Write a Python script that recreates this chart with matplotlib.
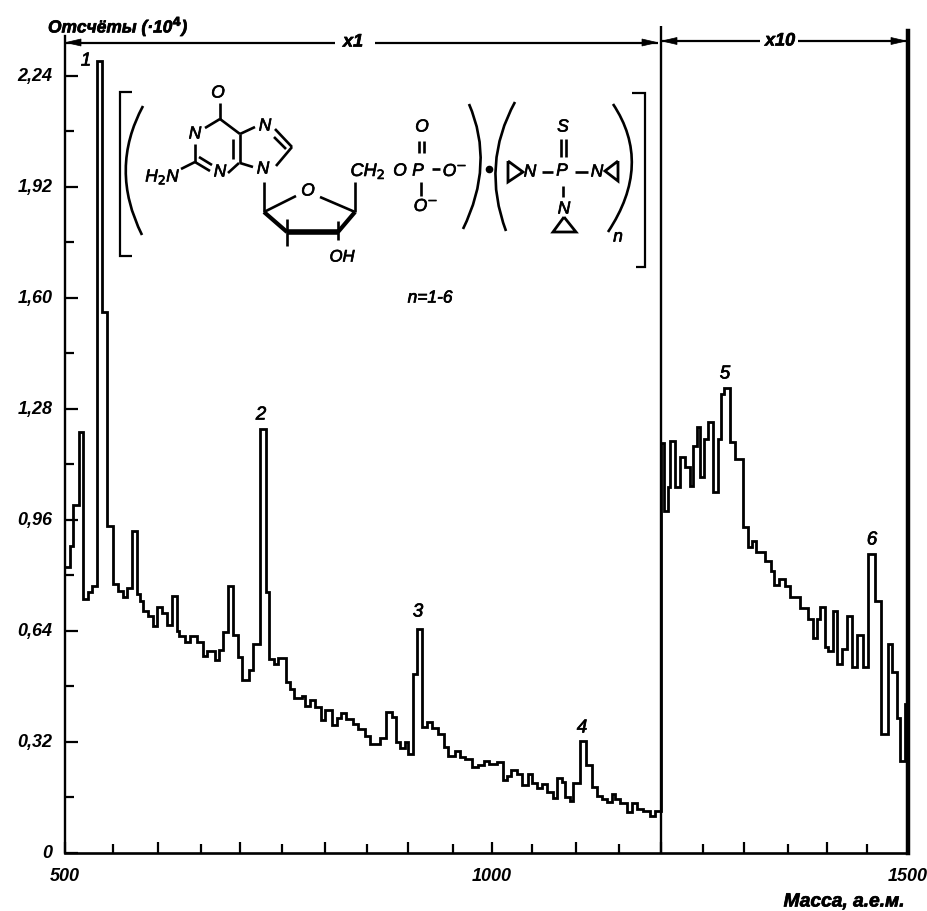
import numpy as np
import matplotlib
matplotlib.use("Agg")
import matplotlib.pyplot as plt
import matplotlib.patheffects as pe
from matplotlib.path import Path
from matplotlib.patches import PathPatch, Polygon

plt.rcParams['font.family'] = ['Liberation Sans', 'DejaVu Sans']

# Left edge of each histogram step (mass, a.m.u.) and its height (counts x 10^4)
mass_edges = [
    501, 505, 508, 515, 519, 524, 528, 533, 539, 544, 550, 556, 561, 566, 571, 577, 580, 583, 589, 594,
    599, 605, 610, 616, 622, 625, 631, 637, 645, 653, 658, 668, 673, 678, 685, 691, 697, 702, 711, 716,
    724, 731, 735, 740, 745, 755, 759, 764, 773, 777, 783, 788, 795, 800, 808, 814, 819, 825, 833, 839,
    848, 854, 866, 873, 881, 885, 890, 896, 900, 906, 910, 916, 921, 927, 933, 940, 945, 953, 959, 965,
    974, 982, 990, 996, 1006, 1014, 1019, 1024, 1031, 1038, 1045, 1050, 1056, 1061, 1067, 1074, 1078,
    1084, 1087, 1093, 1097, 1105, 1112, 1119, 1124, 1130, 1136, 1142, 1145, 1151, 1160, 1166, 1172,
    1179, 1187, 1193,
    1200, 1204, 1208, 1211, 1217, 1223, 1229, 1235, 1238, 1243, 1246, 1251, 1256, 1262, 1268, 1272,
    1276, 1283, 1289, 1299, 1305, 1309, 1314, 1324, 1331, 1334, 1340, 1347, 1353, 1365, 1376, 1382,
    1387, 1391, 1397, 1401, 1408, 1413, 1419, 1425, 1431, 1438, 1445, 1451, 1460, 1467, 1476, 1481,
    1487, 1490, 1496, 1500]
counts = [
    0.824, 0.885, 1.003, 1.213, 0.732, 0.752, 0.769, 2.282, 1.559, 0.942, 0.775, 0.755, 0.738, 0.764, 0.928,
    0.746, 0.726, 0.697, 0.683, 0.654, 0.709, 0.692, 0.657, 0.741, 0.640, 0.625, 0.608, 0.625, 0.608, 0.568,
    0.582, 0.556, 0.585, 0.637, 0.769, 0.628, 0.565, 0.499, 0.527, 0.602, 1.222, 0.752, 0.559, 0.545, 0.562,
    0.493, 0.473, 0.447, 0.452, 0.424, 0.441, 0.421, 0.383, 0.412, 0.369, 0.389, 0.403, 0.386, 0.372, 0.357,
    0.337, 0.314, 0.331, 0.406, 0.392, 0.320, 0.303, 0.320, 0.285, 0.516, 0.646, 0.363, 0.378, 0.360, 0.343,
    0.305, 0.280, 0.294, 0.277, 0.271, 0.248, 0.254, 0.265, 0.256, 0.262, 0.210, 0.222, 0.239, 0.228, 0.196,
    0.228, 0.202, 0.187, 0.199, 0.176, 0.158, 0.216, 0.205, 0.161, 0.150, 0.202, 0.323, 0.254, 0.190, 0.164,
    0.156, 0.147, 0.170, 0.156, 0.144, 0.118, 0.144, 0.127, 0.121, 0.107, 0.121,
    1.182, 0.986, 1.055, 1.187, 1.055, 1.141, 1.112, 1.058, 1.173, 1.228, 1.084, 1.193, 1.242, 1.040, 1.193,
    1.323, 1.340, 1.184, 1.135, 0.939, 0.882, 0.899, 0.867, 0.841, 0.813, 0.772, 0.790, 0.769, 0.738, 0.706,
    0.674, 0.620, 0.674, 0.709, 0.594, 0.582, 0.697, 0.545, 0.588, 0.683, 0.536, 0.628, 0.536, 0.862, 0.726,
    0.343, 0.602, 0.522, 0.389, 0.265, 0.429, 0.429]

x_ticks = list(range(500, 1501, 50))
# The hand-drawn scale: where each 50 a.m.u. tick really sits along the axis (fraction of axis length)
x_tick_fraction = [0, 48, 93, 136, 175, 217, 260, 302, 343, 388, 427, 467, 511, 554, 596, 638, 679, 723, 762, 802, 843]
x_labels = {500: '500', 1000: '1000', 1500: '1500'}
y_ticks = [0.16 * i for i in range(15)]
y_labels = ['0', '', '0,32', '', '0,64', '', '0,96', '', '1,28', '', '1,60', '', '1,92', '', '2,24']

W, H = 928, 912
L, R, B, T = 65, 908, 854, 27
Y_SCALE = 347.0
font_it = dict(style='italic', fontsize=13, color='black')

fig = plt.figure(figsize=(W / 100, H / 100), dpi=100)
ax = fig.add_axes([L / W, 1 - B / H, (R - L) / W, (B - T) / H])

frac = np.array(x_tick_fraction, float)
tv = np.array(x_ticks, float)
def fwd(m):
    return np.interp(m, tv, frac)
def inv(f):
    return np.interp(f, frac, tv)
ax.set_xscale('function', functions=(fwd, inv))
ax.set_xlim(500, 1500)
ax.set_ylim(0, (B - T) / Y_SCALE)

ax.step(mass_edges, counts, where='post', color='black', lw=2.0, solid_joinstyle='miter', clip_on=False)

# ticks
ax.set_xticks([m for m in x_ticks if m % 100 == 0])
ax.set_xticks([m for m in x_ticks if m % 100 != 0], minor=True)
ax.set_xticklabels([x_labels.get(m, '') for m in x_ticks if m % 100 == 0], **font_it, fontweight='bold')
ax.set_yticks(y_ticks[::2])
ax.set_yticks(y_ticks[1::2], minor=True)
ax.set_yticklabels(y_labels[::2], **font_it, fontweight='bold')
ax.tick_params(axis='x', which='major', direction='in', length=8, width=1.6, pad=10)
ax.tick_params(axis='x', which='minor', direction='in', length=6.5, width=1.6)
ax.tick_params(axis='y', which='major', direction='in', length=9, width=1.6, pad=9)
ax.tick_params(axis='y', which='minor', direction='in', length=6.5, width=1.6)
for lab in ax.get_yticklabels():
    lab.set_verticalalignment('center')

ax.spines['top'].set_visible(False)
ax.spines['left'].set_linewidth(1.7)
ax.spines['left'].set_bounds(0, (B - 37) / Y_SCALE)
ax.spines['bottom'].set_linewidth(1.9)
ax.spines['right'].set_linewidth(3.2)
ax.spines['right'].set_bounds(0, (B - 32) / Y_SCALE)
ax.axvline(1200, color='black', lw=1.7)

# annotation overlay in image pixels
ov = fig.add_axes([0, 0, 1, 1], facecolor='none')
ov.set_xlim(0, W)
ov.set_ylim(H, 0)
ov.axis('off')
heavy = [pe.withStroke(linewidth=0.5, foreground='black')]

def txt(x, y, s, size=13, **kw):
    ov.text(x, y, s, fontsize=size, style='italic', ha=kw.pop('ha', 'center'), va='center', color='black',
            path_effects=heavy, **kw)

def ln(pts, lw=1.9):
    xs, ys = zip(*pts)
    ov.plot(xs, ys, color='black', lw=lw, solid_capstyle='butt', solid_joinstyle='miter')

def curve(a, c, b, lw=1.9):
    ov.add_patch(PathPatch(Path([a, c, b], [Path.MOVETO, Path.CURVE3, Path.CURVE3]), fc='none', ec='black', lw=lw))

def head(x, y, d):
    ov.add_patch(Polygon([(x, y), (x - d * 15, y - 3.5), (x - d * 15, y + 3.5)], closed=True, fc='black', ec='black', lw=0.5))

txt(48, 27, 'Отсчёты (·10$^{\\mathbf{4}}$)', size=12.5, ha='left', fontweight='bold')
txt(844, 903, 'Масса, а.е.м.', size=13.8, fontweight='bold')
for x, y, s in [(86, 62, '1'), (261, 416, '2'), (418, 613, '3'), (582, 729, '4'), (725, 375, '5'), (872, 541, '6')]:
    txt(x, y, s, size=13.5)

# range arrows
ln([(66, 43.5), (335, 43.5)], 1.6)
ln([(375, 43.5), (658, 43.5)], 1.6)
ln([(661, 42), (760, 42)], 1.6)
ln([(798, 42), (906, 42)], 1.6)
head(66, 43.5, -1); head(657, 43.5, 1); head(662, 42, -1); head(906, 42, 1)
txt(353, 43, 'x1', size=13, fontweight='bold')
txt(780, 42, 'x10', size=13, fontweight='bold')

# structure: brackets and parentheses
ln([(132, 93), (120, 93), (120, 257), (132, 257)], 1.6)
ln([(632, 94), (645, 94), (645, 268), (636, 268)], 1.6)
curve((143, 107), (109, 170), (142, 236))
curve((469, 105), (495, 165), (463, 230))
curve((515, 103), (481, 165), (506, 232))
curve((613, 105), (653, 165), (608, 233))
ov.plot([489], [170], 'o', color='black', ms=4.5)

# guanine
ln([(220, 104), (220, 120)])
ln([(220, 120), (205, 129)]); ln([(195, 145), (195, 163)])
ln([(195, 163), (181, 170)])
ln([(195, 163), (210, 172)]); ln([(199, 158), (212, 166)])
ln([(228, 174), (239, 164)]); ln([(240, 135), (240, 164)]); ln([(233, 140), (233, 160)])
ln([(220, 120), (240, 135)])
ln([(240, 135), (255, 128)])
ln([(275, 130), (292, 148)]); ln([(274, 138), (286, 150)])
ln([(292, 148), (276, 167)])
ln([(240, 164), (253, 168)])
# sugar
ln([(264, 183), (264, 213)])
ln([(264, 213), (296, 197)])
ln([(264, 213), (287, 233)], 3.0)
ln([(287, 233), (338, 233)], 4.0)
ln([(338, 233), (355, 213)], 3.0)
ln([(355, 213), (320, 198)])
ln([(355, 183), (355, 213)])
ln([(287, 220), (287, 247)]); ln([(338, 222), (338, 241)])
# phosphate
ln([(419, 142), (419, 154)]); ln([(424, 142), (424, 154)])
ln([(421, 183), (421, 197)])
ln([(432, 170), (440, 170)])
# thiotepa
ln([(508, 162), (508, 183), (523, 173), (508, 162)], 2.0)
ln([(542, 173), (553, 173)])
ln([(561, 140), (561, 158)]); ln([(566, 140), (566, 158)])
ln([(575, 173), (588, 173)])
ln([(618, 162), (618, 182), (605, 172), (618, 162)], 2.0)
ln([(563, 187), (563, 198)])
ln([(564, 218), (553, 233), (576, 233), (564, 218)], 2.0)

for x, y, s in [(218, 94, 'O'), (195, 135, 'N'), (220, 173, 'N'), (265, 127, 'N'), (263, 170, 'N'),
                (308, 192, 'O'), (400, 172, 'O'), (418, 172, 'P'), (422, 128, 'O'),
                (530, 173, 'N'), (562, 172, 'P'), (563, 128, 'S'), (597, 173, 'N'), (564, 210, 'N'),
                (618, 238, 'n')]:
    txt(x, y, s, size=12.5)
txt(163, 178, 'H$_2$N', size=12.5)
txt(342, 258, 'OH', size=12)
txt(368, 172, 'CH$_2$', size=13)
txt(455, 172, 'O$^{-}$', size=12.5)
txt(426, 207, 'O$^{-}$', size=12.5)
txt(430, 299, 'n=1-6', size=12.5)

fig.savefig('out.png', dpi=100)
